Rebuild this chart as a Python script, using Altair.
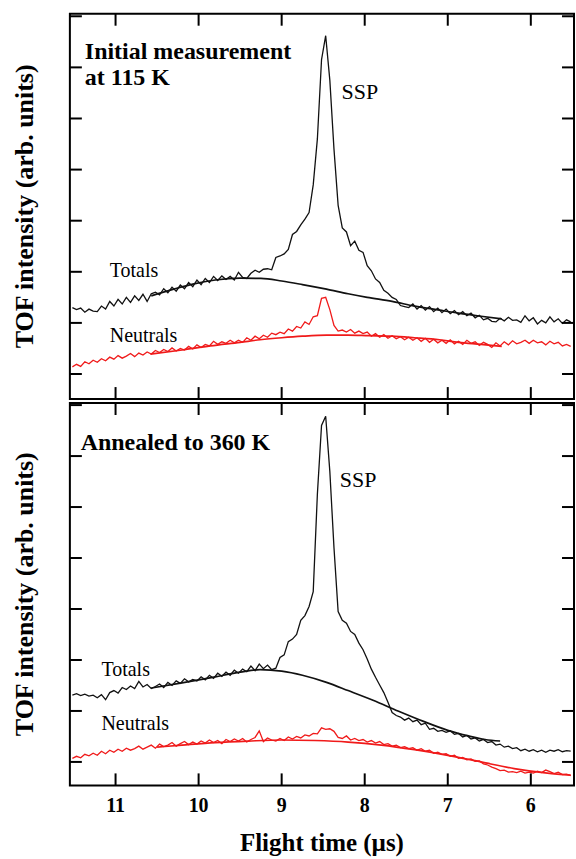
import altair as alt
import pandas as pd

FONT = "Liberation Serif"
INK = "#111111"
RED = "#f01a1a"

# flight-time channels (µs)
time_us = [
    11.52, 11.47, 11.42, 11.37, 11.32, 11.27, 11.22, 11.17, 11.12, 11.07,
    11.02, 10.97, 10.92, 10.87, 10.82, 10.77, 10.72, 10.67, 10.62, 10.57,
    10.52, 10.47, 10.42, 10.37, 10.32, 10.27, 10.22, 10.17, 10.12, 10.07,
    10.02, 9.97, 9.92, 9.87, 9.82, 9.77, 9.72, 9.67, 9.62, 9.57,
    9.52, 9.47, 9.42, 9.37, 9.32, 9.27, 9.22, 9.17, 9.12, 9.07,
    9.02, 8.97, 8.92, 8.87, 8.82, 8.77, 8.72, 8.67, 8.62, 8.57,
    8.52, 8.47, 8.42, 8.37, 8.32, 8.27, 8.22, 8.17, 8.12, 8.07,
    8.02, 7.97, 7.92, 7.87, 7.82, 7.77, 7.72, 7.67, 7.62, 7.57,
    7.52, 7.47, 7.42, 7.37, 7.32, 7.27, 7.22, 7.17, 7.12, 7.07,
    7.02, 6.97, 6.92, 6.87, 6.82, 6.77, 6.72, 6.67, 6.62, 6.57,
    6.52, 6.47, 6.42, 6.37, 6.32, 6.27, 6.22, 6.17, 6.12, 6.07,
    6.02, 5.97, 5.92, 5.87, 5.82, 5.77, 5.72, 5.67, 5.62, 5.57,
    5.52,
]

# top panel: initial measurement at 115 K
top_totals = [
    1.30, 1.26, 1.29, 1.21, 1.27, 1.23, 1.22, 1.33, 1.27, 1.42,
    1.33, 1.46, 1.37, 1.50, 1.40, 1.53, 1.44, 1.56, 1.42, 1.57,
    1.60, 1.55, 1.67, 1.59, 1.70, 1.62, 1.74, 1.67, 1.79, 1.71,
    1.84, 1.75, 1.87, 1.79, 1.91, 1.83, 1.92, 1.85, 1.91, 1.84,
    1.99, 1.89, 1.87, 1.97, 2.03, 1.99, 2.05, 2.06, 2.04, 2.28,
    2.31, 2.35, 2.44, 2.73, 2.79, 2.92, 3.03, 3.16, 3.70, 4.60,
    6.15, 6.62, 5.75, 4.40, 3.30, 2.86, 2.78, 2.51, 2.60, 2.42,
    2.38, 2.12, 2.02, 1.86, 1.79, 1.64, 1.58, 1.50, 1.46, 1.34,
    1.32, 1.30, 1.37, 1.27, 1.34, 1.25, 1.32, 1.22, 1.29, 1.20,
    1.27, 1.18, 1.24, 1.16, 1.22, 1.14, 1.19, 1.10, 1.15, 1.06,
    1.09, 1.03, 1.02, 1.09, 1.04, 1.11, 1.05, 1.06, 1.01, 1.14,
    1.04, 1.10, 0.98, 1.05, 1.00, 1.12, 1.02, 1.08, 0.99, 1.06,
    1.02,
]
top_neutrals = [
    0.14, 0.19, 0.15, 0.24, 0.20, 0.27, 0.23, 0.30, 0.26, 0.33,
    0.29, 0.36, 0.31, 0.35, 0.40, 0.34, 0.41, 0.37, 0.43, 0.39,
    0.46, 0.42, 0.48, 0.44, 0.51, 0.45, 0.50, 0.47, 0.54, 0.49,
    0.57, 0.52, 0.58, 0.55, 0.64, 0.58, 0.63, 0.60, 0.66, 0.61,
    0.66, 0.62, 0.71, 0.66, 0.74, 0.69, 0.76, 0.72, 0.80, 0.77,
    0.82, 0.79, 0.88, 0.84, 0.93, 0.90, 1.02, 0.97, 1.12, 1.14,
    1.48, 1.50, 1.26, 0.95, 0.84, 0.86, 0.82, 0.87, 0.80, 0.84,
    0.79, 0.82, 0.74, 0.79, 0.72, 0.77, 0.70, 0.75, 0.69, 0.73,
    0.67, 0.72, 0.66, 0.71, 0.64, 0.70, 0.62, 0.68, 0.61, 0.66,
    0.60, 0.67, 0.59, 0.64, 0.58, 0.66, 0.60, 0.63, 0.56, 0.62,
    0.58, 0.52, 0.61, 0.55, 0.63, 0.57, 0.65, 0.59, 0.62, 0.66,
    0.60, 0.66, 0.61, 0.63, 0.57, 0.64, 0.59, 0.62, 0.55, 0.58,
    0.54,
]
top_fit_totals_t = [10.57, 10.3, 10.07, 9.8, 9.5, 9.25, 9.0, 8.75, 8.46, 8.2, 7.97, 7.67, 7.4, 7.1, 6.87, 6.6, 6.35]
top_fit_totals_i = [1.53, 1.66, 1.76, 1.84, 1.875, 1.87, 1.82, 1.75, 1.66, 1.57, 1.50, 1.42, 1.33, 1.25, 1.19, 1.13, 1.08]
top_fit_neutrals_t = [10.58, 10.2, 9.86, 9.5, 9.26, 9.0, 8.75, 8.46, 8.2, 7.95, 7.67, 7.4, 7.1, 6.87, 6.6, 6.35]
top_fit_neutrals_i = [0.39, 0.47, 0.55, 0.62, 0.67, 0.71, 0.74, 0.76, 0.76, 0.75, 0.74, 0.71, 0.67, 0.62, 0.58, 0.54]

# bottom panel: annealed to 360 K
bot_totals = [
    1.31, 1.34, 1.30, 1.33, 1.29, 1.31, 1.26, 1.32, 1.22, 1.36,
    1.40, 1.35, 1.46, 1.42, 1.49, 1.44, 1.58, 1.47, 1.52, 1.44,
    1.48, 1.53, 1.46, 1.56, 1.50, 1.59, 1.54, 1.63, 1.57, 1.62,
    1.59, 1.67, 1.61, 1.70, 1.64, 1.74, 1.68, 1.76, 1.70, 1.80,
    1.74, 1.82, 1.77, 1.88, 1.79, 1.92, 1.83, 1.90, 1.81, 1.84,
    2.05, 2.10, 2.36, 2.41, 2.50, 2.78, 2.87, 3.05, 3.34, 5.25,
    6.60, 6.78, 5.70, 4.20, 2.95, 2.78, 2.72, 2.56, 2.50, 2.33,
    2.20, 2.02, 1.82, 1.66, 1.51, 1.36, 1.17, 0.97, 0.91, 0.88,
    0.82, 0.86, 0.79, 0.82, 0.73, 0.76, 0.64, 0.66, 0.60, 0.62,
    0.58, 0.61, 0.54, 0.56, 0.49, 0.52, 0.45, 0.47, 0.41, 0.44,
    0.38, 0.40, 0.33, 0.35, 0.29, 0.31, 0.26, 0.28, 0.22, 0.25,
    0.21, 0.24, 0.20, 0.23, 0.19, 0.23, 0.21, 0.24, 0.20, 0.22,
    0.21,
]
bot_neutrals = [
    0.07, 0.11, 0.08, 0.15, 0.12, 0.17, 0.13, 0.21, 0.16, 0.23,
    0.19, 0.25, 0.21, 0.27, 0.23, 0.26, 0.31, 0.25, 0.29, 0.33,
    0.27, 0.35, 0.30, 0.33, 0.38, 0.31, 0.36, 0.40, 0.34, 0.39,
    0.35, 0.41, 0.37, 0.43, 0.38, 0.42, 0.36, 0.44, 0.40, 0.45,
    0.41, 0.46, 0.39, 0.44, 0.48, 0.61, 0.40, 0.47, 0.43, 0.41,
    0.46, 0.42, 0.49, 0.45, 0.50, 0.47, 0.53, 0.51, 0.56, 0.55,
    0.67, 0.64, 0.65, 0.60, 0.48, 0.46, 0.51, 0.43, 0.46, 0.42,
    0.44, 0.39, 0.42, 0.37, 0.40, 0.34, 0.36, 0.31, 0.33, 0.28,
    0.30, 0.26, 0.28, 0.23, 0.26, 0.21, 0.23, 0.17, 0.19, 0.15,
    0.16, 0.11, 0.13, 0.07, 0.09, 0.04, 0.06, 0.01, 0.02, -0.04,
    -0.06, -0.10, -0.13, -0.17, -0.16, -0.20, -0.19, -0.21, -0.18, -0.22,
    -0.20, -0.22, -0.18, -0.21, -0.16, -0.19, -0.23, -0.20, -0.25, -0.24,
    -0.27,
]
bot_fit_totals_t = [10.57, 10.2, 9.8, 9.5, 9.26, 9.0, 8.75, 8.46, 8.2, 7.9, 7.6, 7.3, 7.0, 6.75, 6.55, 6.37]
bot_fit_totals_i = [1.45, 1.55, 1.67, 1.76, 1.81, 1.78, 1.70, 1.56, 1.40, 1.21, 1.00, 0.80, 0.62, 0.51, 0.44, 0.41]
bot_fit_neutrals_t = [10.5, 10.2, 9.8, 9.4, 9.0, 8.6, 8.2, 7.8, 7.4, 7.0, 6.6, 6.2, 5.8, 5.52]
bot_fit_neutrals_i = [0.29, 0.33, 0.38, 0.41, 0.43, 0.42, 0.39, 0.33, 0.24, 0.13, 0.0, -0.13, -0.22, -0.26]

# annotations
top_heads = ["Initial measurement", "at 115 K"]
top_heads_t = [11.37, 11.37]
top_heads_i = [6.31, 5.80]
top_labels = ["SSP", "Totals", "Neutrals"]
top_labels_t = [8.28, 11.07, 11.07]
top_labels_i = [5.51, 2.02, 0.75]
bot_heads = ["Annealed to 360 K"]
bot_heads_t = [11.42]
bot_heads_i = [6.25]
bot_labels = ["SSP", "Totals", "Neutrals"]
bot_labels_t = [8.30, 11.17, 11.17]
bot_labels_i = [5.54, 1.81, 0.74]

x_ticks = [11, 10, 9, 8, 7, 6]
x_tick_labels = ["11", "10", "9", "8", "7", "6"]
y_ticks = [0, 1, 2, 3, 4, 5, 6, 7]
y_title = "TOF intensity (arb. units)"
x_title = "Flight time (µs)"

X_DOMAIN = [11.55, 5.48]
W = 505
TICK = 12


def panel(meas_tot, meas_neu, ftt, fti, fnt, fni, heads, ht, hi, labs, lt, li,
          y_dom, h, bottom):
    xs = alt.Scale(domain=X_DOMAIN, nice=False, zero=False)
    ys = alt.Scale(domain=y_dom, nice=False, zero=False)

    def X(f):
        return alt.X(f, scale=xs, axis=None)

    def Y(f):
        return alt.Y(f, scale=ys, axis=None)

    meas = pd.DataFrame({"t": time_us, "tot": meas_tot, "neu": meas_neu})
    base = alt.Chart(meas)
    l_tot = base.mark_line(color=INK, strokeWidth=1.3, clip=True).encode(
        x=X("t:Q"), y=Y("tot:Q"))
    l_neu = base.mark_line(color=RED, strokeWidth=1.3, clip=True).encode(
        x=X("t:Q"), y=Y("neu:Q"))
    f_tot = alt.Chart(pd.DataFrame({"t": ftt, "tot": fti})).mark_line(
        color=INK, strokeWidth=1.7, interpolate="monotone", clip=True).encode(
        x=X("t:Q"), y=Y("tot:Q"))
    f_neu = alt.Chart(pd.DataFrame({"t": fnt, "tot": fni})).mark_line(
        color=RED, strokeWidth=1.7, interpolate="monotone", clip=True).encode(
        x=X("t:Q"), y=Y("tot:Q"))

    xt = alt.Chart(pd.DataFrame({"t": x_ticks, "lab": x_tick_labels}))
    yt = alt.Chart(pd.DataFrame({"tot": y_ticks}))
    tk = dict(color="black", strokeWidth=2)
    t_top = xt.mark_rule(**tk).encode(x=X("t:Q"), y=alt.value(0), y2=alt.value(TICK))
    t_bot = xt.mark_rule(**tk).encode(x=X("t:Q"), y=alt.value(h - TICK), y2=alt.value(h))
    t_left = yt.mark_rule(**tk).encode(y=Y("tot:Q"), x=alt.value(0), x2=alt.value(TICK))
    t_right = yt.mark_rule(**tk).encode(y=Y("tot:Q"), x=alt.value(W - TICK), x2=alt.value(W))

    heads_c = alt.Chart(pd.DataFrame({"t": ht, "tot": hi, "s": heads})).mark_text(
        align="left", baseline="middle", font=FONT, fontSize=24, fontWeight="bold",
        color="black").encode(x=X("t:Q"), y=Y("tot:Q"), text="s:N")
    sizes = [22, 20, 20]
    layers = [l_tot, f_tot, l_neu, f_neu, t_top, t_bot, t_left, t_right, heads_c]
    for k in range(len(labs)):
        layers.append(
            alt.Chart(pd.DataFrame({"t": [lt[k]], "tot": [li[k]], "s": [labs[k]]})).mark_text(
                align="left", baseline="middle", font=FONT, fontSize=sizes[k],
                color="black").encode(x=X("t:Q"), y=Y("tot:Q"), text="s:N"))

    # y-axis title
    layers.append(
        alt.Chart(pd.DataFrame({"s": [y_title]})).mark_text(
            angle=270, align="center", baseline="middle", font=FONT, fontSize=26,
            fontWeight="bold", color="black").encode(
            x=alt.value(-45), y=alt.value(h / 2), text="s:N"))

    if bottom:
        layers.append(
            xt.mark_text(align="center", baseline="middle", font=FONT, fontSize=20,
                         fontWeight="bold", color="black").encode(
                x=X("t:Q"), y=alt.value(h + 21), text="lab:N"))
        layers.append(
            alt.Chart(pd.DataFrame({"s": [x_title]})).mark_text(
                align="center", baseline="middle", font=FONT, fontSize=25,
                fontWeight="bold", color="black").encode(
                x=alt.value(W / 2), y=alt.value(h + 58), text="s:N"))

    return alt.layer(*layers).properties(width=W, height=h)


top = panel(top_totals, top_neutrals, top_fit_totals_t, top_fit_totals_i,
            top_fit_neutrals_t, top_fit_neutrals_i, top_heads, top_heads_t, top_heads_i,
            top_labels, top_labels_t, top_labels_i, [-0.49, 7.05], 386, False)
bot = panel(bot_totals, bot_neutrals, bot_fit_totals_t, bot_fit_totals_i,
            bot_fit_neutrals_t, bot_fit_neutrals_i, bot_heads, bot_heads_t, bot_heads_i,
            bot_labels, bot_labels_t, bot_labels_i, [-0.46, 7.04], 383, True)

chart = alt.vconcat(top, bot, spacing=0).properties(
    padding={"left": 10, "top": 11, "right": 0, "bottom": 0},
    background="white",
).configure_view(stroke="black", strokeWidth=2)

chart.save("out.html", embed_options={"renderer": "svg", "actions": False})
